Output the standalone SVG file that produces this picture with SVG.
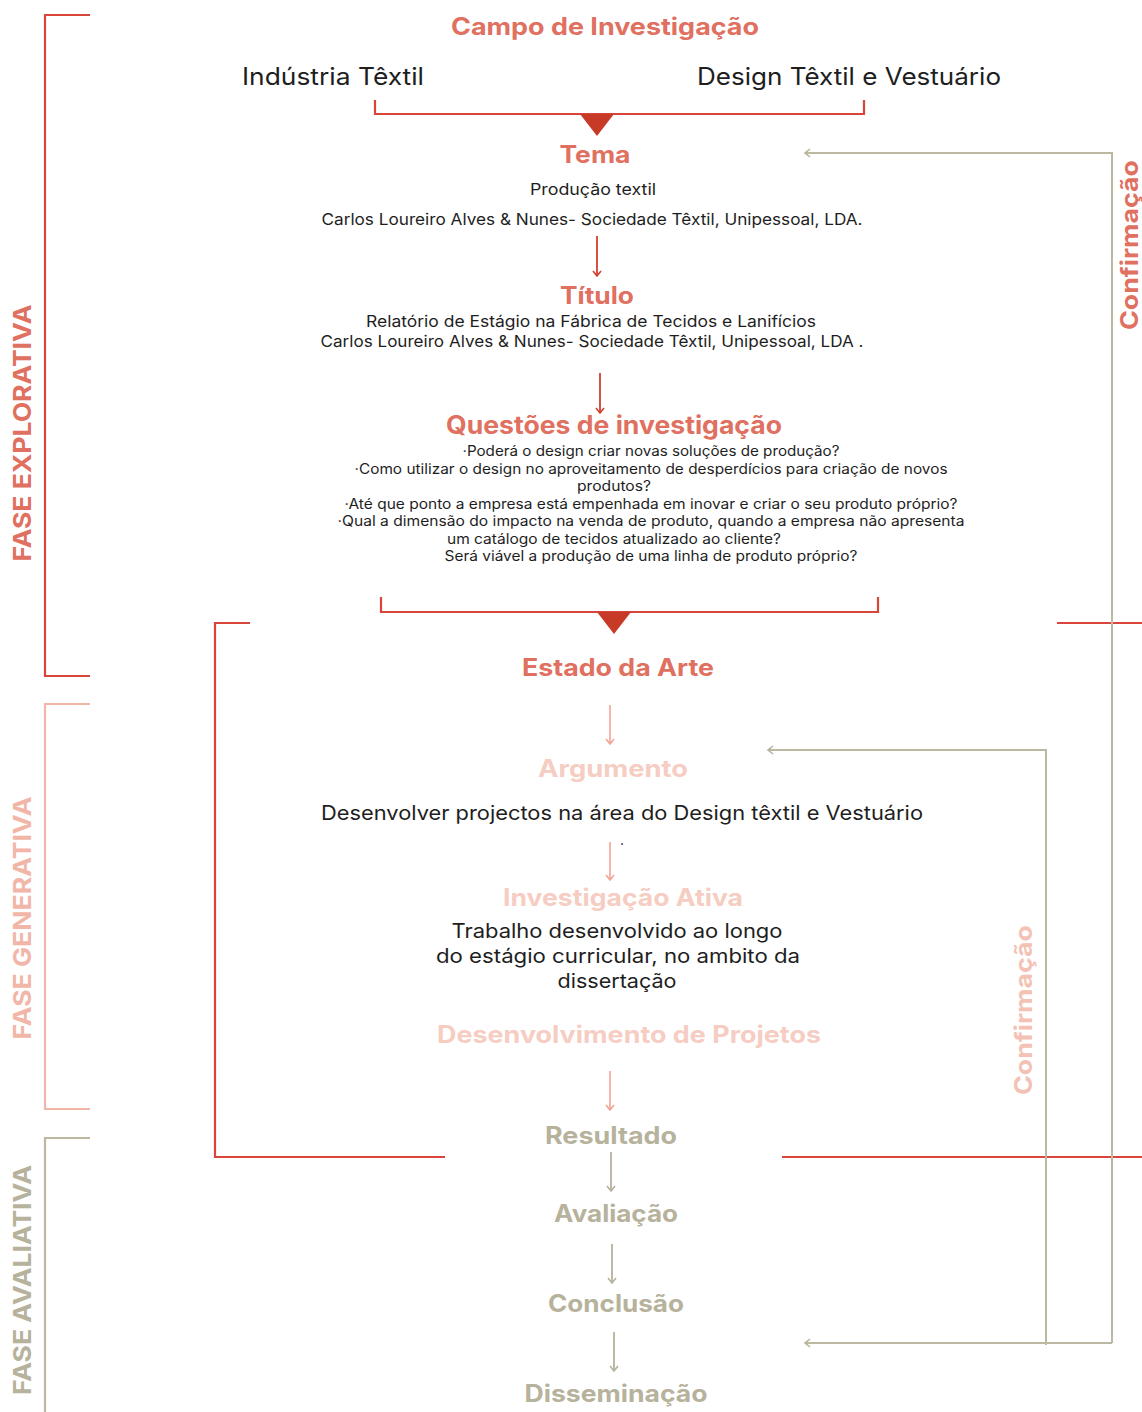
<svg xmlns="http://www.w3.org/2000/svg" width="1142" height="1412" viewBox="0 0 1142 1412">
<defs>
<style>
text{font-family:Inter,"Noto Sans","Liberation Sans",sans-serif;text-anchor:middle}
.h{font-weight:700;font-size:24px}
.red{fill:#e0705f}
.pink{fill:#f6cdc2}
.kh{fill:#b6b29c}
.body{fill:#1e1e1e}
.s16{font-size:16px}
.s14{font-size:14px}
.s20{font-size:20px}
.s24{font-size:24px}
.lr{stroke:#d9453a;stroke-width:2.2;fill:none}
.lp{stroke:#f2b6a8;stroke-width:2.2;fill:none}
.lk{stroke:#bcb8a2;stroke-width:2.2;fill:none}
.ar{stroke:#d0402f;stroke-width:1.8;fill:none}
.ap{stroke:#f0a494;stroke-width:1.6;fill:none}
.ak{stroke:#b6b29c;stroke-width:1.8;fill:none}
.fb{stroke:#bcb8a2;stroke-width:2;fill:none}
.phase{font-weight:700;font-size:24px}
</style>
<marker id="mr" viewBox="0 0 10 10" refX="9" refY="5" markerWidth="10" markerHeight="10" markerUnits="userSpaceOnUse" orient="auto">
<path d="M4,1 L9,5 L4,9" fill="none" stroke="#d0402f" stroke-width="1.6"/>
</marker>
<marker id="mp" viewBox="0 0 10 10" refX="9" refY="5" markerWidth="10" markerHeight="10" markerUnits="userSpaceOnUse" orient="auto">
<path d="M4,1 L9,5 L4,9" fill="none" stroke="#f0a494" stroke-width="1.6"/>
</marker>
<marker id="mk" viewBox="0 0 10 10" refX="9" refY="5" markerWidth="10" markerHeight="10" markerUnits="userSpaceOnUse" orient="auto">
<path d="M4,1 L9,5 L4,9" fill="none" stroke="#b6b29c" stroke-width="1.6"/>
</marker>
</defs>
<rect width="1142" height="1412" fill="#ffffff"/>

<g id="phase-explorativa">
<path class="lr" d="M90,15 H45 V676 H90"/>
<text class="phase red" transform="translate(31,433) rotate(-90)" textLength="257" lengthAdjust="spacingAndGlyphs">FASE EXPLORATIVA</text>
</g>
<g id="phase-generativa">
<path class="lp" d="M90,704 H45 V1109 H90"/>
<text class="phase" fill="#f2b6a8" transform="translate(31,918) rotate(-90)" textLength="243" lengthAdjust="spacingAndGlyphs">FASE GENERATIVA</text>
</g>
<g id="phase-avaliativa">
<path class="lk" d="M90,1138 H45 V1412"/>
<text class="phase kh" transform="translate(31,1280) rotate(-90)" textLength="230" lengthAdjust="spacingAndGlyphs">FASE AVALIATIVA</text>
</g>

<g id="connectors">
<path class="lr" d="M375,100 V114 H864 V100"/>
<path d="M580,114 L614,114 L597,136 Z" fill="#c83a28"/>
<line class="ar" x1="597" y1="236" x2="597" y2="276" marker-end="url(#mr)"/>
<line class="ar" x1="600" y1="373" x2="600" y2="413" marker-end="url(#mr)"/>
<path class="lr" d="M381,597 V612 H878 V597"/>
<path d="M597,612 L631,612 L614,634 Z" fill="#c83a28"/>
<path class="lr" d="M250,623 H215 V1157 H445"/>
<line class="lr" x1="1057" y1="623" x2="1142" y2="623"/>
<line class="lr" x1="782" y1="1157" x2="1142" y2="1157"/>
<line class="ap" x1="610" y1="705" x2="610" y2="744" marker-end="url(#mp)"/>
<line class="ap" x1="610" y1="842" x2="610" y2="880" marker-end="url(#mp)"/>
<line class="ap" x1="610" y1="1071" x2="610" y2="1110" marker-end="url(#mp)"/>
<line class="ak" x1="611" y1="1152" x2="611" y2="1191" marker-end="url(#mk)"/>
<line class="ak" x1="612" y1="1244" x2="612" y2="1283" marker-end="url(#mk)"/>
<line class="ak" x1="614" y1="1332" x2="614" y2="1371" marker-end="url(#mk)"/>
<path class="fb" d="M1112,1343 V153 H805" marker-end="url(#mk)"/>
<path class="fb" d="M1112,1343 H805" marker-end="url(#mk)"/>
<path class="fb" d="M1046,1345 V750 H768" marker-end="url(#mk)"/>
</g>

<g id="campo">
<text class="h red" x="605" y="35" textLength="308" lengthAdjust="spacingAndGlyphs">Campo de Investigação</text>
<text class="body s24" x="333" y="85" textLength="182" lengthAdjust="spacingAndGlyphs">Indústria Têxtil</text>
<text class="body s24" x="849" y="85" textLength="304" lengthAdjust="spacingAndGlyphs">Design Têxtil e Vestuário</text>
</g>
<g id="tema">
<text class="h red" x="595" y="163" textLength="71" lengthAdjust="spacingAndGlyphs">Tema</text>
<text class="body s16" x="593" y="195" textLength="126" lengthAdjust="spacingAndGlyphs">Produção textil</text>
<text class="body s16" x="592" y="225" textLength="541" lengthAdjust="spacingAndGlyphs">Carlos Loureiro Alves &amp; Nunes- Sociedade Têxtil, Unipessoal, LDA.</text>
</g>
<g id="titulo">
<text class="h red" x="597" y="304" textLength="74" lengthAdjust="spacingAndGlyphs">Título</text>
<text class="body s16" x="591" y="327" textLength="450" lengthAdjust="spacingAndGlyphs">Relatório de Estágio na Fábrica de Tecidos e Lanifícios</text>
<text class="body s16" x="592" y="347" textLength="543" lengthAdjust="spacingAndGlyphs">Carlos Loureiro Alves &amp; Nunes- Sociedade Têxtil, Unipessoal, LDA .</text>
</g>
<g id="questoes">
<text class="h red" x="614" y="434" style="font-size:25px" textLength="336" lengthAdjust="spacingAndGlyphs">Questões de investigação</text>
<text class="body s14" x="651" y="456" textLength="377" lengthAdjust="spacingAndGlyphs">·Poderá o design criar novas soluções de produção?</text>
<text class="body s14" x="651" y="474" textLength="593" lengthAdjust="spacingAndGlyphs">·Como utilizar o design no aproveitamento de desperdícios para criação de novos</text>
<text class="body s14" x="614" y="491" textLength="74" lengthAdjust="spacingAndGlyphs">produtos?</text>
<text class="body s14" x="651" y="509" textLength="613" lengthAdjust="spacingAndGlyphs">·Até que ponto a empresa está empenhada em inovar e criar o seu produto próprio?</text>
<text class="body s14" x="651" y="526" textLength="627" lengthAdjust="spacingAndGlyphs">·Qual a dimensão do impacto na venda de produto, quando a empresa não apresenta</text>
<text class="body s14" x="614" y="544" textLength="334" lengthAdjust="spacingAndGlyphs">um catálogo de tecidos atualizado ao cliente?</text>
<text class="body s14" x="651" y="561" textLength="413" lengthAdjust="spacingAndGlyphs">Será viável a produção de uma linha de produto próprio?</text>
</g>
<g id="estado-arte">
<text class="h red" x="618" y="676" textLength="192" lengthAdjust="spacingAndGlyphs">Estado da Arte</text>
</g>
<g id="argumento">
<text class="h pink" x="613" y="777" textLength="150" lengthAdjust="spacingAndGlyphs">Argumento</text>
<text class="body s20" x="622" y="820" textLength="602" lengthAdjust="spacingAndGlyphs">Desenvolver projectos na área do Design têxtil e Vestuário</text>
<text class="body s14" x="622" y="845">.</text>
</g>
<g id="investigacao-ativa">
<text class="h pink" x="623" y="906" textLength="240" lengthAdjust="spacingAndGlyphs">Investigação Ativa</text>
<text class="body s20" x="617" y="938" textLength="331" lengthAdjust="spacingAndGlyphs">Trabalho desenvolvido ao longo</text>
<text class="body s20" x="618" y="963" textLength="364" lengthAdjust="spacingAndGlyphs">do estágio curricular, no ambito da</text>
<text class="body s20" x="617" y="988" textLength="119" lengthAdjust="spacingAndGlyphs">dissertação</text>
</g>
<g id="desenvolvimento">
<text class="h pink" x="629" y="1043" textLength="384" lengthAdjust="spacingAndGlyphs">Desenvolvimento de Projetos</text>
</g>
<g id="resultado"><text class="h kh" x="611" y="1144" textLength="132" lengthAdjust="spacingAndGlyphs">Resultado</text></g>
<g id="avaliacao"><text class="h kh" x="616" y="1222" textLength="124" lengthAdjust="spacingAndGlyphs">Avaliação</text></g>
<g id="conclusao"><text class="h kh" x="616" y="1312" textLength="136" lengthAdjust="spacingAndGlyphs">Conclusão</text></g>
<g id="disseminacao"><text class="h kh" x="616" y="1402" textLength="183" lengthAdjust="spacingAndGlyphs">Disseminação</text></g>
<g id="confirmacao-1"><text class="h red" transform="translate(1138,245) rotate(-90)" textLength="170" lengthAdjust="spacingAndGlyphs">Confirmação</text></g>
<g id="confirmacao-2"><text class="h" fill="#f3c2b4" transform="translate(1032,1010) rotate(-90)" textLength="170" lengthAdjust="spacingAndGlyphs">Confirmação</text></g>
</svg>
